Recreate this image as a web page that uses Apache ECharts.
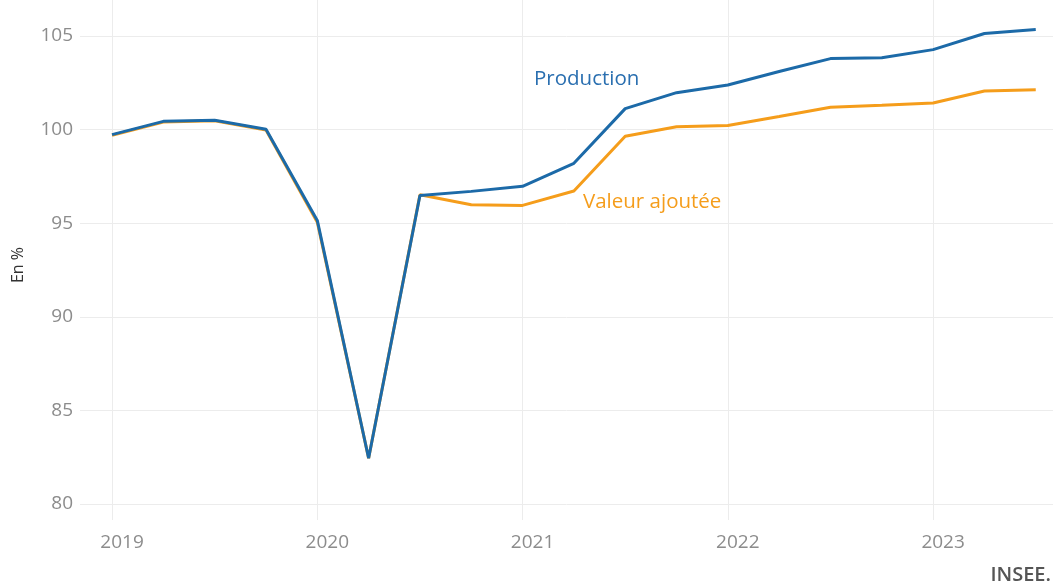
<!DOCTYPE html>
<html><head><meta charset="utf-8">
<script src="https://cdn.jsdelivr.net/npm/echarts@6/dist/echarts.min.js"></script>
<style>html,body{margin:0;padding:0;background:#fff}#c{width:1053px;height:585px}</style>
</head><body><div id="c"></div>
<script>
const quarters = ['2019T1','2019T2','2019T3','2019T4','2020T1','2020T2','2020T3','2020T4','2021T1','2021T2','2021T3','2021T4','2022T1','2022T2','2022T3','2022T4','2023T1','2023T2','2023T3'];
const production = [99.73,100.44,100.5,100.02,95.15,82.45,96.48,96.7,96.97,98.2,101.12,101.97,102.38,103.1,103.79,103.84,104.27,105.13,105.34];
const valeurAjoutee = [99.7,100.4,100.47,99.98,95.05,82.45,96.52,95.99,95.95,96.72,99.64,100.15,100.22,100.7,101.19,101.3,101.42,102.06,102.13];
const yearTicks = [2019,2020,2021,2022,2023];
const yTicks = [80,85,90,95,100,105];

function qPos(q){ return +q.slice(0,4) + (+q.slice(5)-1)/4; }
const prodData = quarters.map((q,i)=>[qPos(q), production[i]]);
const vaData = quarters.map((q,i)=>[qPos(q), valeurAjoutee[i]]);

const font = '"Open Sans", "Noto Sans", sans-serif';
const chart = echarts.init(document.getElementById('c'));
chart.setOption({
  animation:false,
  grid:{left:80,right:0,top:0,bottom:65,containLabel:false},
  xAxis:{type:'value',min:2018.844,max:2023.584,
    axisLine:{show:false},
    axisTick:{show:false,customValues:yearTicks},
    axisLabel:{customValues:yearTicks,color:'#8c8c8c',fontSize:19,fontFamily:font,margin:13,padding:[0,0,0,20],formatter:v=>String(v)},
    splitLine:{show:true,lineStyle:{color:'#ececec',width:1}}},
  yAxis:{type:'value',min:79.15,max:106.92,
    axisLine:{show:false},
    axisTick:{show:false,customValues:yTicks},
    axisLabel:{customValues:yTicks,color:'#8c8c8c',fontSize:19,fontFamily:font,margin:7},
    splitLine:{show:true,lineStyle:{color:'#ececec',width:1}}},
  series:[
    {name:'Valeur ajoutée',type:'line',data:vaData,symbol:'none',lineStyle:{color:'#f59d1b',width:3},itemStyle:{color:'#f59d1b'}},
    {name:'Production',type:'line',data:prodData,symbol:'none',lineStyle:{color:'#1c6aa8',width:3},itemStyle:{color:'#1c6aa8'}}
  ],
  graphic:[
    {type:'text',x:534,y:79,style:{text:'Production',fill:'#2a6fb0',font:'20.5px '+font,verticalAlign:'middle'}},
    {type:'text',x:583,y:202,style:{text:'Valeur ajoutée',fill:'#f59d1b',font:'20.5px '+font,verticalAlign:'middle'}},
    {type:'text',x:18,y:265,rotation:Math.PI/2,style:{text:'En %',fill:'#333',font:'16px '+font,align:'center',verticalAlign:'middle'}},
    {type:'text',x:1051,y:575,style:{text:'INSEE.',fill:'#555',font:'600 20px '+font,align:'right',verticalAlign:'middle'}}
  ]
});
</script></body></html>
